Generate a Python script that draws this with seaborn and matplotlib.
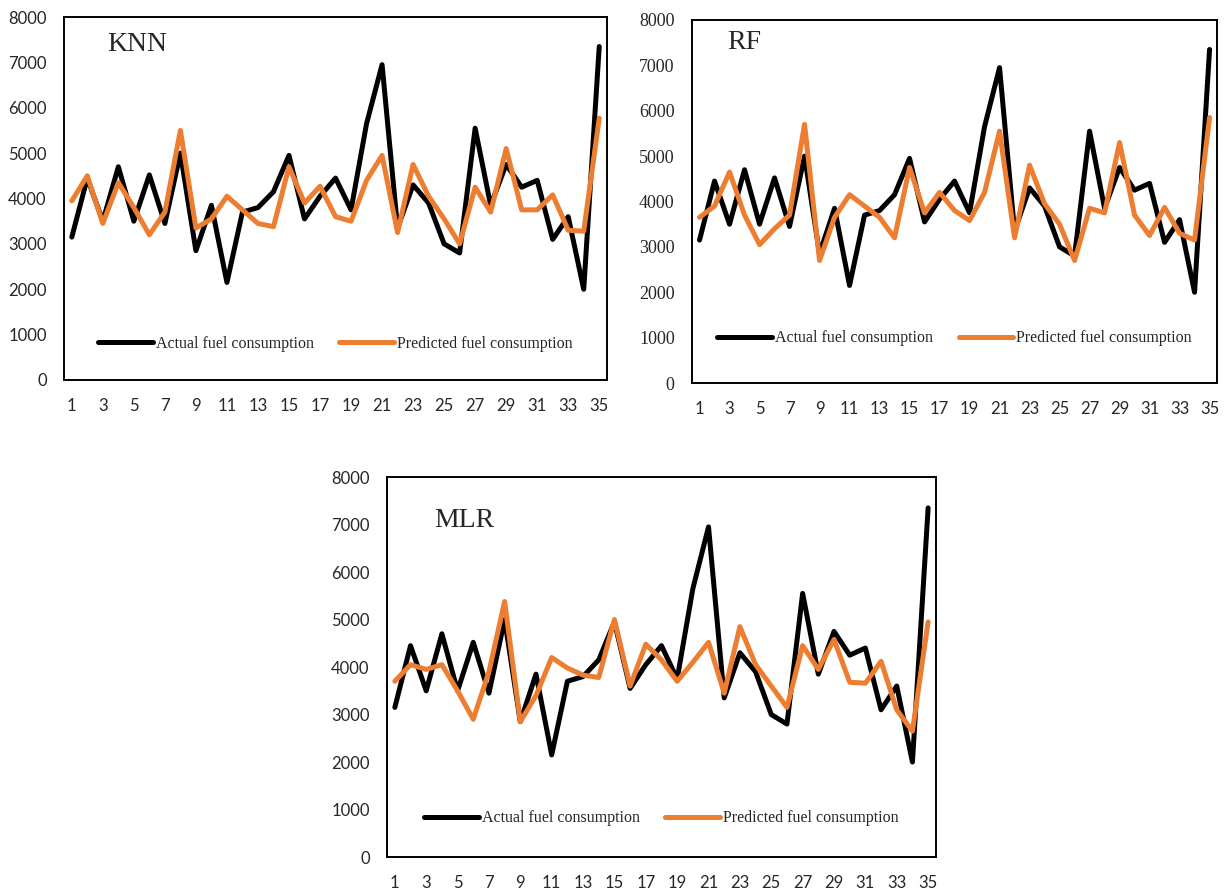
import numpy as np
import pandas as pd
import matplotlib
matplotlib.use("Agg")
import matplotlib.pyplot as plt
import seaborn as sns

# Sample index for the 35 test vehicles
samples = list(range(1, 36))

# Measured fuel consumption (same for all models)
actual = [3150, 4450, 3500, 4700, 3500, 4520, 3450, 5000, 2850, 3850,
          2150, 3700, 3800, 4150, 4950, 3550, 4050, 4450, 3750, 5650,
          6950, 3350, 4300, 3900, 3000, 2800, 5550, 3850, 4750, 4250,
          4400, 3100, 3600, 2000, 7350]

# Model predictions
knn_pred = [3950, 4500, 3450, 4350, 3800, 3200, 3700, 5500, 3350, 3550,
            4050, 3750, 3450, 3380, 4700, 3900, 4270, 3600, 3500, 4400,
            4950, 3250, 4750, 4050, 3550, 3000, 4250, 3700, 5100, 3750,
            3750, 4080, 3300, 3280, 5770]

rf_pred = [3650, 3900, 4650, 3700, 3050, 3400, 3700, 5700, 2700, 3650,
           4150, 3900, 3650, 3200, 4750, 3750, 4200, 3800, 3580, 4200,
           5550, 3200, 4800, 3950, 3500, 2700, 3850, 3750, 5300, 3700,
           3250, 3870, 3300, 3150, 5850]

mlr_pred = [3700, 4050, 3950, 4050, 3500, 2900, 3900, 5380, 2850, 3400,
            4200, 3980, 3830, 3780, 5000, 3600, 4480, 4150, 3700, 4100,
            4520, 3450, 4850, 4050, 3600, 3150, 4450, 3950, 4580, 3680,
            3660, 4120, 3100, 2650, 4950]

series_names = ["Actual fuel consumption", "Predicted fuel consumption"]
colors = ["#000000", "#ED7D31"]
x_ticks = list(range(1, 36, 2))
y_ticks = [0, 1000, 2000, 3000, 4000, 5000, 6000, 7000, 8000]

sns.set_style("white")
plt.rcParams["font.family"] = ["Liberation Serif", "DejaVu Serif"]

SANS = "Lato"
SERIF = "Liberation Serif"
LW = 3.6

fig = plt.figure(figsize=(12.27, 8.92), dpi=100)

panels = [
    # name, predictions, axes rect, y-tick font, label pos, legend y
    ("KNN", knn_pred, [0.0522, 0.5740, 0.4425, 0.4069], SANS, (0.079, 0.923), 0.099),
    ("RF", rf_pred, [0.5640, 0.5706, 0.4279, 0.4070], SERIF, (0.067, 0.937), 0.123),
    ("MLR", mlr_pred, [0.3154, 0.0392, 0.4474, 0.4260], SANS, (0.086, 0.885), 0.102),
]

for name, pred, rect, yfont, label_pos, leg_y in panels:
    ax = fig.add_axes(rect)
    df = pd.DataFrame({
        "Sample": samples * 2,
        "Fuel consumption": actual + pred,
        "Series": [series_names[0]] * len(samples) + [series_names[1]] * len(samples),
    })
    sns.lineplot(data=df, x="Sample", y="Fuel consumption", hue="Series",
                 palette=colors, linewidth=LW, ax=ax, legend=False)

    ax.set_xlim(0.5, 35.5)
    ax.set_ylim(0, 8000)
    ax.tick_params(axis="both", length=0)
    ax.tick_params(axis="y", pad=12.5)
    ax.tick_params(axis="x", pad=13)
    ax.set_xticks(x_ticks)
    ax.set_yticks(y_ticks)
    ax.set_xlabel("")
    ax.set_ylabel("")
    ax.grid(False)
    for sp in ax.spines.values():
        sp.set_visible(True)
        sp.set_color("black")
        sp.set_linewidth(1.4)

    ax.text(label_pos[0], label_pos[1], name, transform=ax.transAxes,
            fontfamily=SERIF, fontsize=20, ha="left", va="center")

    handles = [plt.Line2D([], [], color=c, linewidth=LW, solid_capstyle="round")
               for c in colors]
    ax.legend(handles, series_names, loc="center", bbox_to_anchor=(0.5, leg_y),
              ncol=2, frameon=False, handlelength=3.4, handletextpad=0.2,
              columnspacing=1.6, prop={"family": SERIF, "size": 11.5})

    ax.set_xticklabels([str(t) for t in x_ticks], fontfamily=SANS, fontsize=12)
    ysize = 13 if yfont == SERIF else 12
    ax.set_yticklabels([str(t) for t in y_ticks], fontfamily=yfont, fontsize=ysize)

fig.savefig("out.png", dpi=100)
